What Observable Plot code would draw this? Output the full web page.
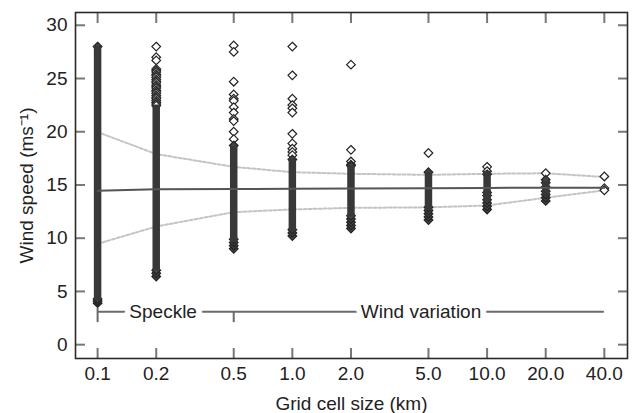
<!DOCTYPE html>
<html>
<head>
<meta charset="utf-8">
<script src="https://cdn.jsdelivr.net/npm/d3@7"></script>
<script src="https://cdn.jsdelivr.net/npm/@observablehq/plot@0.6"></script>
<style>
  html, body { margin: 0; padding: 0; background: #fff; }
</style>
</head>
<body>
<div id="chart"></div>
<script>
// Grid cell sizes (km) – x categories (log scale)
const gridSizes = [0.1, 0.2, 0.5, 1.0, 2.0, 5.0, 10.0, 20.0, 40.0];
const gridLabels = ["0.1", "0.2", "0.5", "1.0", "2.0", "5.0", "10.0", "20.0", "40.0"];

// Mean and ±1 std envelope of wind speed per grid size
const meanSpeed  = [14.45, 14.6, 14.62, 14.65, 14.67, 14.7, 14.72, 14.74, 14.75];
const upperSpeed = [19.97, 17.9, 16.7, 16.2, 16.05, 15.95, 16.05, 16.1, 15.75];
const lowerSpeed = [9.47, 11.1, 12.45, 12.7, 12.85, 12.9, 13.07, 13.8, 14.5];

// Dense (continuous) ranges of points in each column
const denseSize = [0.1, 0.2, 0.5, 1.0, 2.0, 5.0, 10.0, 20.0];
const denseLow  = [4.1, 7.0, 9.6, 10.6, 12.0, 12.6, 13.4, 14.0];
const denseHigh = [28.0, 22.5, 18.6, 17.4, 16.8, 16.2, 16.3, 15.3];

// Stacked diamonds at the ends of the dense ranges
const edgeSize = [0.1,0.1,0.1,0.1, 0.2,0.2,0.2, 0.5,0.5,0.5,0.5,0.5, 1.0,1.0,1.0,1.0,
  2.0,2.0,2.0,2.0,2.0,2.0, 5.0,5.0,5.0,5.0,5.0,5.0,
  10.0,10.0,10.0,10.0,10.0,10.0,10.0, 20.0,20.0,20.0,20.0,20.0,20.0,20.0];
const edgeSpeed = [28.0,3.9,4.1,4.3, 6.4,6.7,7.0, 18.7,9.0,9.3,9.6,9.9, 17.4,10.2,10.5,10.8,
  16.8,10.9,11.2,11.5,11.8,12.1, 16.2,11.7,12.0,12.3,12.6,12.9,
  12.7,13.0,13.3,13.6,14.0,14.3,16.0, 13.5,13.8,14.1,14.4,14.8,15.2,15.5];

// Individual (open) outlier diamonds
const outSize = [
  0.2,0.2,0.2,0.2,0.2,0.2,0.2,0.2,0.2,0.2,0.2,0.2,0.2,0.2,0.2,0.2,0.2,0.2,0.2,0.2,0.2,0.2,0.2,0.2,0.2,
  0.5,0.5,0.5,0.5,0.5,0.5,0.5,0.5,0.5,0.5,0.5,0.5,
  1.0,1.0,1.0,1.0,1.0,1.0,1.0,1.0,1.0,1.0,1.0,
  2.0,2.0,2.0,2.0,
  5.0,
  10.0,10.0,
  20.0,
  40.0,40.0,40.0];
const outSpeed = [
  28.0,27.0,26.7,25.9,25.75,25.6,25.4,25.25,25.1,24.9,24.75,24.6,24.4,24.25,24.1,23.9,23.75,23.6,23.4,23.25,23.1,22.9,22.75,22.6,22.45,
  28.1,27.5,24.7,23.5,23.1,22.9,22.3,21.8,21.2,21.0,20.0,19.3,
  28.0,25.3,23.1,22.5,22.2,21.8,19.8,18.9,18.4,18.1,17.8,
  26.3,18.3,17.2,16.9,
  18.0,
  16.7,16.3,
  16.1,
  15.8,14.7,14.5];

// Annotation
const annotY = 3.1;
const annotRange = [0.1, 40.0];
const annotLabels = ["Speckle", "Wind variation"];
const annotLabelX = [0.217, 4.58];
const annotTickX = [0.1, 0.5];
const annotTickLow = [2.07, 2.07];
const annotTickHigh = [3.39, 3.1];

const yTicks = [0, 5, 10, 15, 20, 25, 30];
const xLabel = "Grid cell size (km)";
const yLabel = "Wind speed (ms\u207B\u00B9)";

const lineData = gridSizes.map((g, i) => ({g, mean: meanSpeed[i], up: upperSpeed[i], lo: lowerSpeed[i]}));
const dense = denseSize.map((g, i) => ({g, lo: denseLow[i], hi: denseHigh[i]}));
const edges = edgeSize.map((g, i) => ({g, v: edgeSpeed[i]}));
const outs = outSize.map((g, i) => ({g, v: outSpeed[i]}));
const annotText = annotLabels.map((t, i) => ({t, x: annotLabelX[i], y: annotY}));
const annotTicks = annotTickX.map((x, i) => ({x, lo: annotTickLow[i], hi: annotTickHigh[i]}));
const labelOf = new Map(gridSizes.map((g, i) => [g, gridLabels[i]]));

const chart = Plot.plot({
  width: 632,
  height: 413,
  marginLeft: 75,
  marginRight: 5,
  marginTop: 12,
  marginBottom: 55,
  style: {fontFamily: "'Liberation Sans', Arial, Helvetica, sans-serif", fontSize: "19px", background: "#fff"},
  x: {type: "log", domain: [0.077, 52.6]},
  y: {domain: [-1.3, 31.2]},
  marks: [
    // annotation
    Plot.ruleY([annotY], {x1: annotRange[0], x2: annotRange[1], stroke: "#6a6a6a", strokeWidth: 2}),
    Plot.ruleX(annotTicks, {x: "x", y1: "lo", y2: "hi", stroke: "#6a6a6a", strokeWidth: 2}),
    Plot.text(annotText, {x: "x", y: "y", text: "t", fill: "#222", stroke: "white", strokeWidth: 12, paintOrder: "stroke", fontSize: 19}),
    // envelopes
    Plot.line(lineData, {x: "g", y: "up", stroke: "#c4c4c4", strokeWidth: 2, strokeDasharray: "3,2"}),
    Plot.line(lineData, {x: "g", y: "lo", stroke: "#c4c4c4", strokeWidth: 2, strokeDasharray: "3,2"}),
    // points
    Plot.dot(outs, {x: "g", y: "v", symbol: "diamond2", r: 3.9, fill: "white", stroke: "#222", strokeWidth: 1.2}),
    Plot.dot(edges, {x: "g", y: "v", symbol: "diamond2", r: 3.9, fill: "#444", stroke: "#222", strokeWidth: 1.2}),
    Plot.ruleX(dense, {x: "g", y1: "lo", y2: "hi", stroke: "#383838", strokeWidth: 7.5}),
    // mean
    Plot.line(lineData, {x: "g", y: "mean", stroke: "#555", strokeWidth: 2}),
    // axes
    Plot.axisY(yTicks, {anchor: "left", tickSize: -10, tickPadding: 18, stroke: "#777", strokeWidth: 2, fill: "#222", fontSize: 19,
      label: yLabel, labelAnchor: "center", labelArrow: "none", labelOffset: 56}),
    Plot.axisY(yTicks, {anchor: "right", tickSize: -10, stroke: "#777", strokeWidth: 2, text: () => "", label: null}),
    Plot.axisX(gridSizes, {anchor: "bottom", tickSize: -10, tickPadding: 18, stroke: "#777", strokeWidth: 2, fill: "#222", fontSize: 19,
      text: d => labelOf.get(d), label: xLabel, labelAnchor: "center", labelArrow: "none", labelOffset: 51}),
    Plot.axisX(gridSizes, {anchor: "top", tickSize: -10, stroke: "#777", strokeWidth: 2, text: () => "", label: null}),
    Plot.frame({stroke: "#2a2a2a", strokeWidth: 1.6})
  ]
});
document.getElementById("chart").appendChild(chart);
</script>
</body>
</html>
